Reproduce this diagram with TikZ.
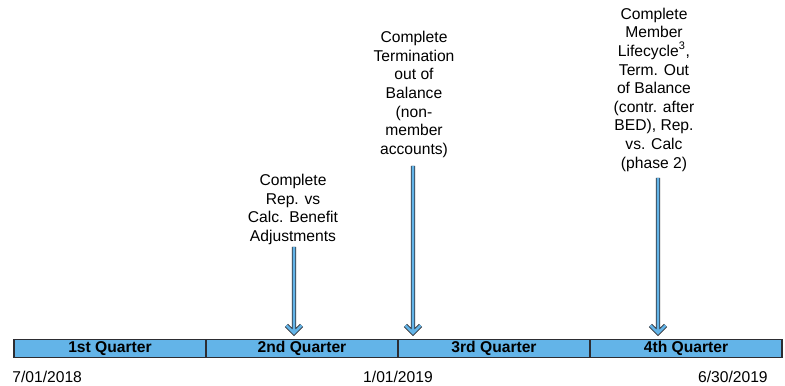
\documentclass[tikz,border=0pt]{standalone}
\usepackage{fontspec}
\setmainfont{Liberation Sans}
\usetikzlibrary{positioning}
\definecolor{qblue}{RGB}{99,180,232}
\definecolor{qline}{RGB}{45,45,50}
\begin{document}
\begin{tikzpicture}[
    quarterbox/.style={draw=qline, line width=0.6pt, fill=qblue, rectangle, minimum width=3.84cm, minimum height=0.36cm, inner sep=0pt, outer sep=0pt, font=\fontsize{8.9}{10.6}\selectfont\bfseries},
    datelabel/.style={inner sep=0pt, font=\fontsize{8.9}{10.6}\selectfont},
    notetext/.style={inner sep=0pt, align=center, anchor=north, font=\fontsize{8.9}{10.6}\selectfont},
    milestone/.style={draw=qline, line width=0.55pt, double=qblue, double distance=1.45pt, line join=miter}
  ]
        \useasboundingbox (0,0) rectangle (15.7,7.72);

        % timeline bar
        \node [quarterbox] (Q1) at (2.20, 0.75) {1st Quarter};
        \node [quarterbox, right=0pt of Q1] (Q2) {2nd Quarter};
        \node [quarterbox, right=0pt of Q2] (Q3) {3rd Quarter};
        \node [quarterbox, right=0pt of Q3] (Q4) {4th Quarter};

        % dates
        \node [datelabel, anchor=west] (D1) at (0.24, 0.18) {7/01/2018};
        \node [datelabel] (D2) at (7.96, 0.18) {1/01/2019};
        \node [datelabel, anchor=east] (D3) at (15.36, 0.18) {6/30/2019};

        % milestones
        \coordinate (T1) at (5.88, 1.06);
        \coordinate (T2) at (8.26, 1.06);
        \coordinate (T3) at (13.16, 1.06);

        \node [notetext] (N1) at (5.86, 4.24) {Complete\\Rep. vs\\Calc. Benefit\\Adjustments};
        \node [notetext] (N2) at (8.28, 7.10) {Complete\\Termination\\out of\\Balance\\(non-\\member\\accounts)};
        \node [notetext] (N3) at (13.08, 7.57) {Complete\\Member\\Lifecycle\textsuperscript{3},\\Term. Out\\of Balance\\(contr. after\\BED), Rep.\\vs. Calc\\(phase 2)};

        \draw [milestone] (T1 |- 0,2.78) -- (T1) ++(-0.15,0.15) -- (T1) -- ++(0.15,0.15);
        \draw [milestone] (T2 |- 0,4.40) -- (T2) ++(-0.15,0.15) -- (T2) -- ++(0.15,0.15);
        \draw [milestone] (T3 |- 0,4.16) -- (T3) ++(-0.15,0.15) -- (T3) -- ++(0.15,0.15);
\end{tikzpicture}
\end{document}
